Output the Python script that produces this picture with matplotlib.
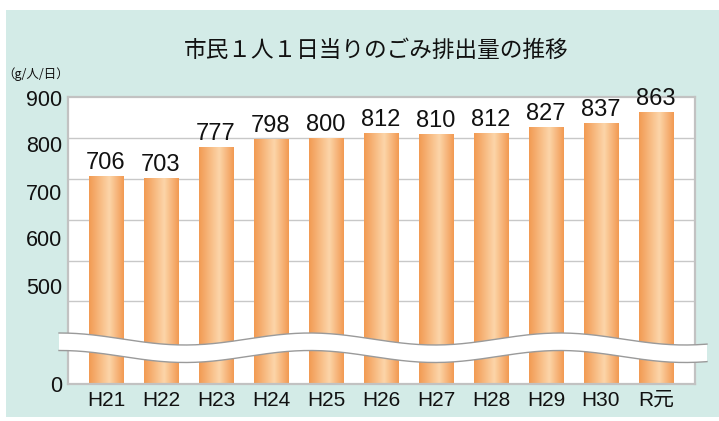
import matplotlib
matplotlib.use('Agg')
import matplotlib.pyplot as plt
import numpy as np
from matplotlib.colors import LinearSegmentedColormap
from matplotlib.patches import Rectangle, Polygon

plt.rcParams['font.family'] = ['Liberation Sans', 'Noto Sans CJK JP']

# data
years = ['H21', 'H22', 'H23', 'H24', 'H25', 'H26', 'H27', 'H28', 'H29', 'H30', 'R元']
grams = [706, 703, 777, 798, 800, 812, 810, 812, 827, 837, 863]

# axis is broken: the visible scale runs 200..900, bottom labelled "0"
y_base = 200
grid_vals = [400, 500, 600, 700, 800]
ytick_labels = ['900', '800', '700', '600', '500', '0']
ytick_pos = [898, 785, 668, 556, 437, 198]   # labels sit a bit off the grid in the original

title = '市民１人１日当りのごみ排出量の推移'
unit = '（g/人/日）'

W, H = 719, 421
fig = plt.figure(figsize=(W / 100, H / 100), dpi=100)
fig.patch.set_facecolor('white')

# teal panel
fig.add_artist(Rectangle((6 / W, 1 - 417 / H), 1 - 6 / W, (417 - 10) / H,
                         transform=fig.transFigure, facecolor='#d3ebe7',
                         edgecolor='none', zorder=-10))

ax = fig.add_axes([68 / W, 1 - 384 / H, (695 - 68) / W, (384 - 97) / H])
ax.set_facecolor('white')

x = np.arange(len(years))
bar_w = 0.62
cmap = LinearSegmentedColormap.from_list(
    'bar', [(0, '#f29a52'), (0.58, '#fcd5a9'), (1, '#f29a52')])
grad = np.linspace(0, 1, 256).reshape(1, -1)

bars = ax.bar(x, np.array(grams) - y_base, bottom=y_base, width=bar_w,
              facecolor='none', edgecolor='none', zorder=2)
for b in bars:
    x0, y0 = b.get_x(), b.get_y()
    im = ax.imshow(grad, cmap=cmap, aspect='auto', zorder=2,
                   extent=(x0, x0 + b.get_width(), y0, y0 + b.get_height()))
    im.set_clip_path(b)

for xi, v in zip(x, grams):
    ax.annotate(str(v), (xi, v), xytext=(0, 5), textcoords='offset points',
                ha='center', va='baseline', fontsize=17, color='#111111')

ax.set_xlim(-0.69, len(years) - 1 + 0.71)
ax.set_ylim(y_base, 900)

ax.set_xticks(x)
ax.set_xticklabels(years, fontsize=15, color='#111111')
ax.set_yticks(ytick_pos)
ax.set_yticklabels(ytick_labels, fontsize=15.5, color='#111111')
ax.set_yticks(grid_vals, minor=True)
ax.tick_params(axis='both', which='both', length=0)
ax.tick_params(axis='x', pad=5)
ax.tick_params(axis='y', pad=4)
ax.grid(axis='y', which='minor', color='#c8c8c8', linewidth=1.0, zorder=1)
ax.set_axisbelow(True)
for s in ax.spines.values():
    s.set_color('#c2c2c2')
    s.set_linewidth(1.6)

# wavy break band (decoration, pixel coords)
wx = np.linspace(59, 707, 300)
wy_top = 339 - 6 * np.cos(2 * np.pi * (wx - 310) / 250)
wy_bot = wy_top + 17.5
pts = np.concatenate([np.column_stack([wx, wy_top]),
                      np.column_stack([wx[::-1], wy_bot[::-1]])])
pts_f = np.column_stack([pts[:, 0] / W, 1 - pts[:, 1] / H])
fig.add_artist(Polygon(pts_f, closed=True, transform=fig.transFigure,
                       facecolor='white', edgecolor='none', zorder=5))
for wy in (wy_top, wy_bot):
    fig.add_artist(plt.Line2D(wx / W, 1 - wy / H, transform=fig.transFigure,
                              color='#9a9a9a', linewidth=1.0, zorder=6))

fig.text(376 / W, 1 - 50 / H, title, ha='center', va='center', fontsize=16.3,
         family=['Noto Sans CJK JP'], color='#111111')
fig.text(2 / W, 1 - 74 / H, unit, ha='left', va='center', fontsize=9,
         family=['Noto Sans CJK JP'], color='#111111')

fig.savefig('out.png', dpi=100)
